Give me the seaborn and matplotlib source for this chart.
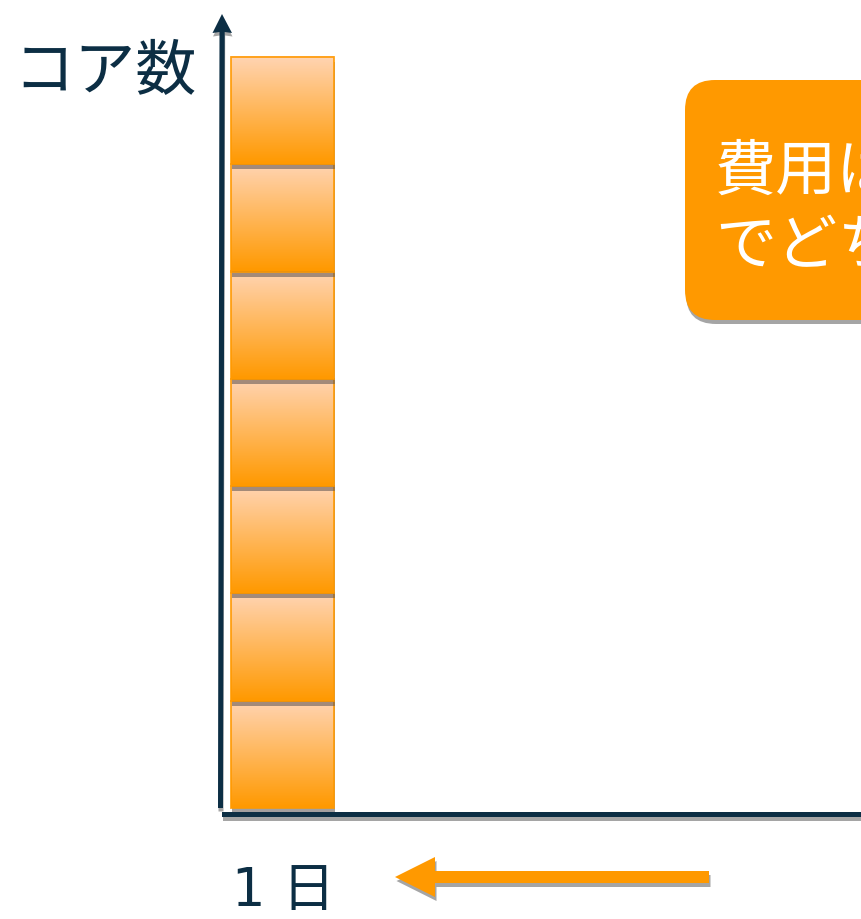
import matplotlib
matplotlib.use("Agg")
import matplotlib.pyplot as plt
import matplotlib.transforms as mtransforms
from matplotlib.patches import Rectangle, Polygon, FancyBboxPatch
import numpy as np
import pandas as pd
import seaborn as sns

# ---- data ----
days = ["1 日"]
cores = [7]
y_label = "コア数"
note_lines = ["費用は同じ", "でどちらが速い？"]

# ---- style ----
NAVY = "#0C2E44"
ORANGE = "#FF9900"
PEACH = "#FFD4B2"
SHADOW = "#6A6A6A"
BAR_SHADOW = "#585050"
W, H = 861, 919

sns.set_theme(style="white")
plt.rcParams["font.family"] = ["DejaVu Sans", "Noto Sans CJK JP"]

fig = plt.figure(figsize=(W / 100, H / 100), dpi=100)
ax = fig.add_axes([0, 0, 1, 1])

df = pd.DataFrame({"day": days, "cores": cores})
sns.barplot(data=df, x="day", y="cores", ax=ax, width=0.8, color=ORANGE)

# pixel transform (origin top-left)
pix = mtransforms.Affine2D().scale(1, -1).translate(0, H)

# data -> pixel mapping for layout
X0PX, XSC = 282.5, 128.75   # bar centre px, px per x unit
Y0PX, YSC = 808.0, 107.3    # baseline px, px per core

bar = ax.patches[0]
bx, bw, bh = bar.get_x(), bar.get_width(), bar.get_height()
bar.set_visible(False)

grad = np.linspace(0, 1, 64)[:, None, None]
c_top = np.array(matplotlib.colors.to_rgb(PEACH))
c_bot = np.array(matplotlib.colors.to_rgb(ORANGE))
img = (1 - grad) * c_top + grad * c_bot

dx_sh = 1 / XSC
dy_sh = 5 / YSC
n = int(round(bh))
for k in range(n):
    z = 2 + 3 * k
    ax.add_patch(Rectangle((bx + dx_sh, k - dy_sh), bw, 1, facecolor=BAR_SHADOW,
                           alpha=0.55, edgecolor="none", zorder=z))
    ax.imshow(img, extent=[bx, bx + bw, k, k + 1], aspect="auto",
              interpolation="bicubic", zorder=z + 1)
    ax.add_patch(Rectangle((bx, k), bw, 1, facecolor="none", edgecolor=ORANGE,
                           lw=1.3, alpha=0.9, zorder=z + 2))

ax.set_xlim(-X0PX / XSC, (W - X0PX) / XSC)
ax.set_ylim((Y0PX - H) / YSC, Y0PX / YSC)
ax.set_axis_off()

def shadowed_poly(pts, color, off=(1.5, 3.5), z=1):
    sh = [(x + off[0], y + off[1]) for x, y in pts]
    ax.add_patch(Polygon(sh, closed=True, facecolor=SHADOW, alpha=0.6,
                         edgecolor="none", transform=pix, zorder=z))
    ax.add_patch(Polygon(pts, closed=True, facecolor=color, edgecolor="none",
                         transform=pix, zorder=z + 0.5))

# y axis with arrow head
shadowed_poly([(218.0, 808), (223.0, 808), (224.7, 32), (232, 33), (222, 14),
               (212.5, 33), (219.5, 32)], NAVY, off=(0.5, 3.5), z=40)
# x axis
shadowed_poly([(222, 811.5), (W + 5, 811.5), (W + 5, 816.5), (222, 816.5)], NAVY,
              off=(1, 4), z=40)

# orange left arrow
shadowed_poly([(709, 871), (435, 871), (435, 857), (395, 877), (435, 897),
               (435, 883), (709, 883)], ORANGE, off=(1.5, 4), z=40)

# rounded note box
sh_box = FancyBboxPatch((686, 84), 500, 240, boxstyle="round,pad=0,rounding_size=30",
                        facecolor=SHADOW, alpha=0.6, edgecolor="none",
                        transform=pix, zorder=41)
box = FancyBboxPatch((685, 80), 500, 240, boxstyle="round,pad=0,rounding_size=30",
                     facecolor=ORANGE, edgecolor="none", transform=pix, zorder=42)
ax.add_patch(sh_box)
ax.add_patch(box)
cjk = ["Noto Sans CJK JP", "DejaVu Sans"]
ax.text(715, 172, note_lines[0], transform=pix, color="white", fontsize=44,
        ha="left", va="center", zorder=43, family=cjk)
ax.text(715, 247, note_lines[1], transform=pix, color="white", fontsize=44,
        ha="left", va="center", zorder=43, family=cjk)

# labels
ax.text(105, 73, y_label, transform=pix, color=NAVY, fontsize=44,
        ha="center", va="center", zorder=43, family=cjk)
ax.text(283, 891, days[0], transform=pix, color=NAVY, fontsize=38,
        ha="center", va="center", zorder=43)

fig.savefig("out.png", dpi=100)
